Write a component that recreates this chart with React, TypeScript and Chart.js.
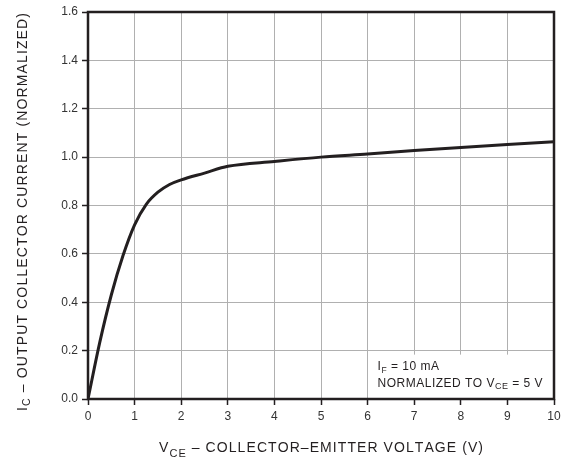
import React, { useEffect, useRef } from "react";
import { Chart, registerables } from "chart.js";

Chart.register(...registerables);

// ---- data ----
const vce = [0, 0.25, 0.5, 0.75, 1, 1.25, 1.5, 1.75, 2, 2.5, 3, 4, 5, 6, 7, 8, 9, 10];
const icNorm = [0, 0.232, 0.43, 0.592, 0.72, 0.805, 0.855, 0.887, 0.906, 0.934, 0.962, 0.982, 1.0, 1.013, 1.027, 1.04, 1.052, 1.064];
const xTicks = [0, 1, 2, 3, 4, 5, 6, 7, 8, 9, 10];
const yTicks = [0, 0.2, 0.4, 0.6, 0.8, 1.0, 1.2, 1.4, 1.6];

type Part = { t: string; sub?: boolean };
const xTitle: Part[] = [{ t: "V" }, { t: "CE", sub: true }, { t: " – COLLECTOR–EMITTER VOLTAGE (V)" }];
const yTitle: Part[] = [{ t: "I" }, { t: "C", sub: true }, { t: " – OUTPUT COLLECTOR CURRENT (NORMALIZED)" }];
const note1: Part[] = [{ t: "I" }, { t: "F", sub: true }, { t: " = 10 mA" }];
const note2: Part[] = [{ t: "NORMALIZED TO V" }, { t: "CE", sub: true }, { t: " = 5 V" }];

const FONT = '"Liberation Sans", Arial, Helvetica, sans-serif';
const INK = "#231f20";

function richWidth(ctx: CanvasRenderingContext2D, parts: Part[], size: number, subSize: number) {
  let w = 0;
  let n = 0;
  for (const p of parts) {
    ctx.font = `${p.sub ? subSize : size}px ${FONT}`;
    for (const ch of p.t) {
      w += ctx.measureText(ch).width;
      n++;
    }
  }
  return { w, n };
}

// draws rich text along local x axis starting at x0, baseline y=0
function drawRich(
  ctx: CanvasRenderingContext2D,
  parts: Part[],
  x0: number,
  size: number,
  subSize: number,
  subDy: number,
  spacing: number
) {
  let x = x0;
  ctx.textBaseline = "alphabetic";
  ctx.textAlign = "left";
  for (const p of parts) {
    ctx.font = `${p.sub ? subSize : size}px ${FONT}`;
    for (const ch of p.t) {
      ctx.fillText(ch, x, p.sub ? subDy : 0);
      x += ctx.measureText(ch).width + spacing;
    }
  }
}

function spacingFor(ctx: CanvasRenderingContext2D, parts: Part[], size: number, subSize: number, target: number) {
  const { w, n } = richWidth(ctx, parts, size, subSize);
  return Math.max(0, (target - w) / (n - 1));
}

const decorPlugin = {
  id: "decor",
  beforeDatasetsDraw(chart: any) {
    const { ctx, scales } = chart;
    const x = scales.x;
    const y = scales.y;
    const l = x.getPixelForValue(6) + 1;
    const r = x.getPixelForValue(10);
    const t = y.getPixelForValue(0.2) + 4;
    const b = y.getPixelForValue(0) - 1;
    ctx.save();
    ctx.fillStyle = "#ffffff";
    ctx.fillRect(l, t, r - l, b - t);
    ctx.restore();
  },
  afterDatasetsDraw(chart: any) {
    const { ctx, chartArea } = chart;
    ctx.save();
    ctx.strokeStyle = INK;
    ctx.lineWidth = 2.5;
    ctx.strokeRect(chartArea.left, chartArea.top, chartArea.right - chartArea.left, chartArea.bottom - chartArea.top);
    ctx.restore();
  },
  afterDraw(chart: any) {
    const { ctx, chartArea, scales } = chart;
    ctx.save();
    ctx.fillStyle = INK;

    // x title
    const xs = spacingFor(ctx, xTitle, 14, 11, 324);
    const xw = richWidth(ctx, xTitle, 14, 11);
    const xTotal = xw.w + xs * (xw.n - 1);
    const cx = (chartArea.left + chartArea.right) / 2;
    ctx.save();
    ctx.translate(cx - xTotal / 2, 452);
    drawRich(ctx, xTitle, 0, 14, 11, 4.7, xs);
    ctx.restore();

    // y title (rotated)
    const ys = spacingFor(ctx, yTitle, 14, 10.5, 398);
    const yw = richWidth(ctx, yTitle, 14, 10.5);
    const yTotal = yw.w + ys * (yw.n - 1);
    ctx.save();
    ctx.translate(27, 212);
    ctx.rotate(-Math.PI / 2);
    drawRich(ctx, yTitle, -yTotal / 2, 14, 10.5, 3.3, ys);
    ctx.restore();

    // notes
    const nx = scales.x.getPixelForValue(6) + 10;
    const s2 = spacingFor(ctx, note2, 12, 9, 165);
    ctx.save();
    ctx.translate(nx, 370);
    drawRich(ctx, note1, 0, 12, 8.5, 3, s2);
    ctx.restore();
    ctx.save();
    ctx.translate(nx, 387);
    drawRich(ctx, note2, 0, 12, 9, 1.5, s2);
    ctx.restore();

    ctx.restore();
  },
};

export default function App() {
  const ref = useRef<HTMLCanvasElement | null>(null);

  useEffect(() => {
    document.body.style.margin = "0";
    const canvas = ref.current;
    if (!canvas) return;
    const chart = new Chart(canvas, {
      type: "line",
      data: {
        datasets: [
          {
            data: vce.map((v, i) => ({ x: v, y: icNorm[i] })),
            borderColor: INK,
            borderWidth: 3,
            pointRadius: 0,
            fill: false,
            cubicInterpolationMode: "monotone",
          },
        ],
      },
      options: {
        responsive: false,
        animation: false,
        layout: { padding: { top: 12, right: 17, left: 0, bottom: 0 } },
        plugins: { legend: { display: false }, tooltip: { enabled: false } },
        scales: {
          x: {
            type: "linear",
            min: 0,
            max: 10,
            afterBuildTicks: (s: any) => {
              s.ticks = xTicks.map((v) => ({ value: v }));
            },
            afterFit: (s: any) => {
              s.height = 59;
            },
            border: { display: false },
            grid: { color: "#b0b0b0", lineWidth: 1, tickColor: INK, tickLength: 6, tickWidth: 1.5 },
            ticks: {
              color: "#333333",
              font: { family: FONT, size: 12 },
              padding: 4,
              maxRotation: 0,
              autoSkip: false,
              callback: (v: any) => String(v),
            },
          },
          y: {
            type: "linear",
            min: 0,
            max: 1.6,
            afterBuildTicks: (s: any) => {
              s.ticks = yTicks.map((v) => ({ value: v }));
            },
            afterFit: (s: any) => {
              s.width = 88;
            },
            border: { display: false },
            grid: { color: "#b0b0b0", lineWidth: 1, tickColor: INK, tickLength: 6, tickWidth: 1.5 },
            ticks: {
              color: "#333333",
              font: { family: FONT, size: 12 },
              padding: 4,
              autoSkip: false,
              callback: (v: any) => Number(v).toFixed(1),
            },
          },
        },
      },
      plugins: [decorPlugin],
    } as any);
    return () => chart.destroy();
  }, []);

  return (
    <div style={{ position: "absolute", left: 0, top: 0, width: 571, height: 458, background: "#fff" }}>
      <canvas ref={ref} width={571} height={458} style={{ display: "block", width: 571, height: 458 }} />
    </div>
  );
}
